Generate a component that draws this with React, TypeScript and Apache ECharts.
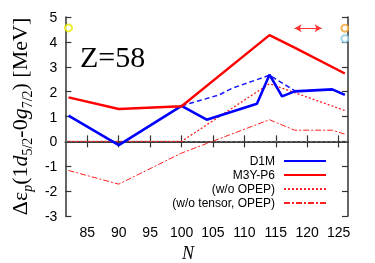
import React, { useEffect, useRef } from "react";
import * as echarts from "echarts";

const xTicks = [85, 90, 95, 100, 105, 110, 115, 120, 125];

const d1mN = [82, 90, 100, 104, 112, 114, 116, 118, 124, 126];
const d1mE = [1.04, -0.15, 1.43, 0.87, 1.51, 2.68, 1.81, 2.01, 2.09, 1.87];

const d1mDashN = [100, 106, 108, 114, 118];
const d1mDashE = [1.43, 1.87, 2.13, 2.66, 2.04];

const m3yN = [82, 90, 100, 114, 118, 126];
const m3yE = [1.77, 1.3, 1.41, 4.27, 3.77, 2.73];

const noOpepN = [82, 90, 100, 114, 126];
const noOpepE = [0, 0, 0, 2.32, 1.24];

const noTensorN = [82, 90, 100, 114, 118, 124, 126];
const noTensorE = [-1.17, -1.72, -0.47, 0.87, 0.45, 0.45, 0.29];

const zeroN = [81.5, 126.5];
const zeroE = [0, 0];

const markN = [82, 126, 126];
const markE = [4.56, 4.55, 4.13];
const markColors = ["#e8e800", "#f0a030", "#90cce8"];
const arrowN = [118, 122.3];
const arrowE = 4.55;

const pairs = (ns: number[], es: number[]) => ns.map((n, i) => [n, es[i]]);

export default function App() {
  const ref = useRef<HTMLDivElement>(null);
  useEffect(() => {
    const chart = echarts.init(ref.current!, null, { renderer: "svg" });
    const axisLine = { show: true, lineStyle: { color: "#333", width: 1.5 } };
    const sans = "Liberation Sans";
    const serif = "Liberation Serif";
    chart.setOption({
      animation: false,
      grid: { left: 54, top: 17, right: 27, bottom: 47 },
      xAxis: [
        {
          type: "value",
          min: 81.5,
          max: 126.5,
          position: "bottom",
          axisLine,
          axisTick: { inside: true, length: 6, customValues: xTicks, lineStyle: { color: "#333", width: 1.2 } },
          axisLabel: { customValues: xTicks, fontSize: 14, color: "#000", fontFamily: sans, margin: 9 },
          splitLine: { show: false },
        },
        {
          type: "value",
          min: 81.5,
          max: 126.5,
          position: "top",
          axisLine,
          axisTick: { inside: true, length: 6, customValues: xTicks, lineStyle: { color: "#333", width: 1.2 } },
          axisLabel: { show: false },
          splitLine: { show: false },
        },
      ],
      yAxis: [
        {
          type: "value",
          min: -3,
          max: 5,
          interval: 1,
          position: "left",
          axisLine,
          axisTick: { inside: true, length: 6, lineStyle: { color: "#333", width: 1.2 } },
          axisLabel: { fontSize: 14, color: "#000", fontFamily: sans, margin: 8 },
          splitLine: { show: false },
          name: "{a|Δε}{sp|p}{a|(1}{i|d}{s|5/2}{a|-0}{i|g}{s|7/2}{a|) [MeV]}",
          nameLocation: "middle",
          nameRotate: 90,
          nameGap: 30,
          nameTextStyle: {
            rich: {
              a: { fontSize: 22, fontFamily: serif, color: "#000", lineHeight: 30, verticalAlign: "middle" },
              i: { fontSize: 22, fontFamily: serif, fontStyle: "italic", color: "#000", lineHeight: 30, verticalAlign: "middle" },
              s: { fontSize: 14, fontFamily: serif, color: "#000", lineHeight: 30, verticalAlign: "bottom" },
              sp: { fontSize: 14, fontFamily: serif, fontStyle: "italic", color: "#000", lineHeight: 30, verticalAlign: "bottom" },
            },
          },
        },
        {
          type: "value",
          min: -3,
          max: 5,
          interval: 1,
          position: "right",
          axisLine,
          axisTick: { inside: true, length: 6, lineStyle: { color: "#333", width: 1.2 } },
          axisLabel: { show: false },
          splitLine: { show: false },
        },
      ],
      legend: {
        data: ["D1M", "M3Y-P6", "(w/o OPEP)", "(w/o tensor, OPEP)"],
        orient: "vertical",
        right: 43,
        top: 150,
        align: "right",
        itemWidth: 42,
        itemHeight: 12,
        itemGap: 2,
        itemStyle: { opacity: 0 },
        textStyle: { fontSize: 12, fontFamily: sans, color: "#000", padding: [0, 4, 0, 0] },
      },
      graphic: [
        { type: "text", x: 80, y: 56, style: { text: "Z=58", fontSize: 30, fontFamily: serif, fill: "#000", verticalAlign: "middle" } },
        { type: "text", x: 188, y: 253, style: { text: "N", fontSize: 18, fontFamily: serif, fontStyle: "italic", fill: "#000", align: "center", verticalAlign: "middle" } },
      ],
      series: [
        {
          name: "zero",
          type: "line",
          data: pairs(zeroN, zeroE),
          symbol: "none",
          lineStyle: { color: "#888", width: 1, type: [2, 3] },
          silent: true,
        },
        {
          name: "(w/o tensor, OPEP)",
          type: "line",
          data: pairs(noTensorN, noTensorE),
          symbol: "none",
          itemStyle: { color: "#ff2020" },
          lineStyle: { color: "#ff2020", width: 1, type: [6, 2, 2, 2] },
        },
        {
          name: "(w/o OPEP)",
          type: "line",
          data: pairs(noOpepN, noOpepE),
          symbol: "none",
          itemStyle: { color: "#ff2020" },
          lineStyle: { color: "#ff2020", width: 1.3, type: [2, 2] },
        },
        {
          name: "D1M dashed",
          type: "line",
          data: pairs(d1mDashN, d1mDashE),
          symbol: "none",
          itemStyle: { color: "#1a1aff" },
          lineStyle: { color: "#1a1aff", width: 1.5, type: [5, 3] },
        },
        {
          name: "D1M",
          type: "line",
          data: pairs(d1mN, d1mE),
          symbol: "none",
          itemStyle: { color: "#0000ff" },
          lineStyle: { color: "#0000ff", width: 2.6 },
        },
        {
          name: "M3Y-P6",
          type: "line",
          data: pairs(m3yN, m3yE),
          symbol: "none",
          itemStyle: { color: "#ff0000" },
          lineStyle: { color: "#ff0000", width: 2.4 },
          markLine: {
            silent: true,
            symbol: ["arrow", "arrow"],
            symbolSize: [6, 7],
            label: { show: false },
            lineStyle: { color: "#ff3030", width: 1, type: "solid" },
            data: [[{ coord: [arrowN[0], arrowE] }, { coord: [arrowN[1], arrowE] }]],
          },
        },
        {
          name: "marks",
          type: "scatter",
          symbol: "emptyCircle",
          symbolSize: 7,
          clip: false,
          data: markN.map((n, i) => ({
            value: [n, markE[i]],
            itemStyle: { color: markColors[i], borderColor: markColors[i], borderWidth: 1.5 },
          })),
        },
      ],
    });
    return () => chart.dispose();
  }, []);
  return <div ref={ref} style={{ position: "fixed", left: 0, top: 0, width: 375, height: 263 }} />;
}
